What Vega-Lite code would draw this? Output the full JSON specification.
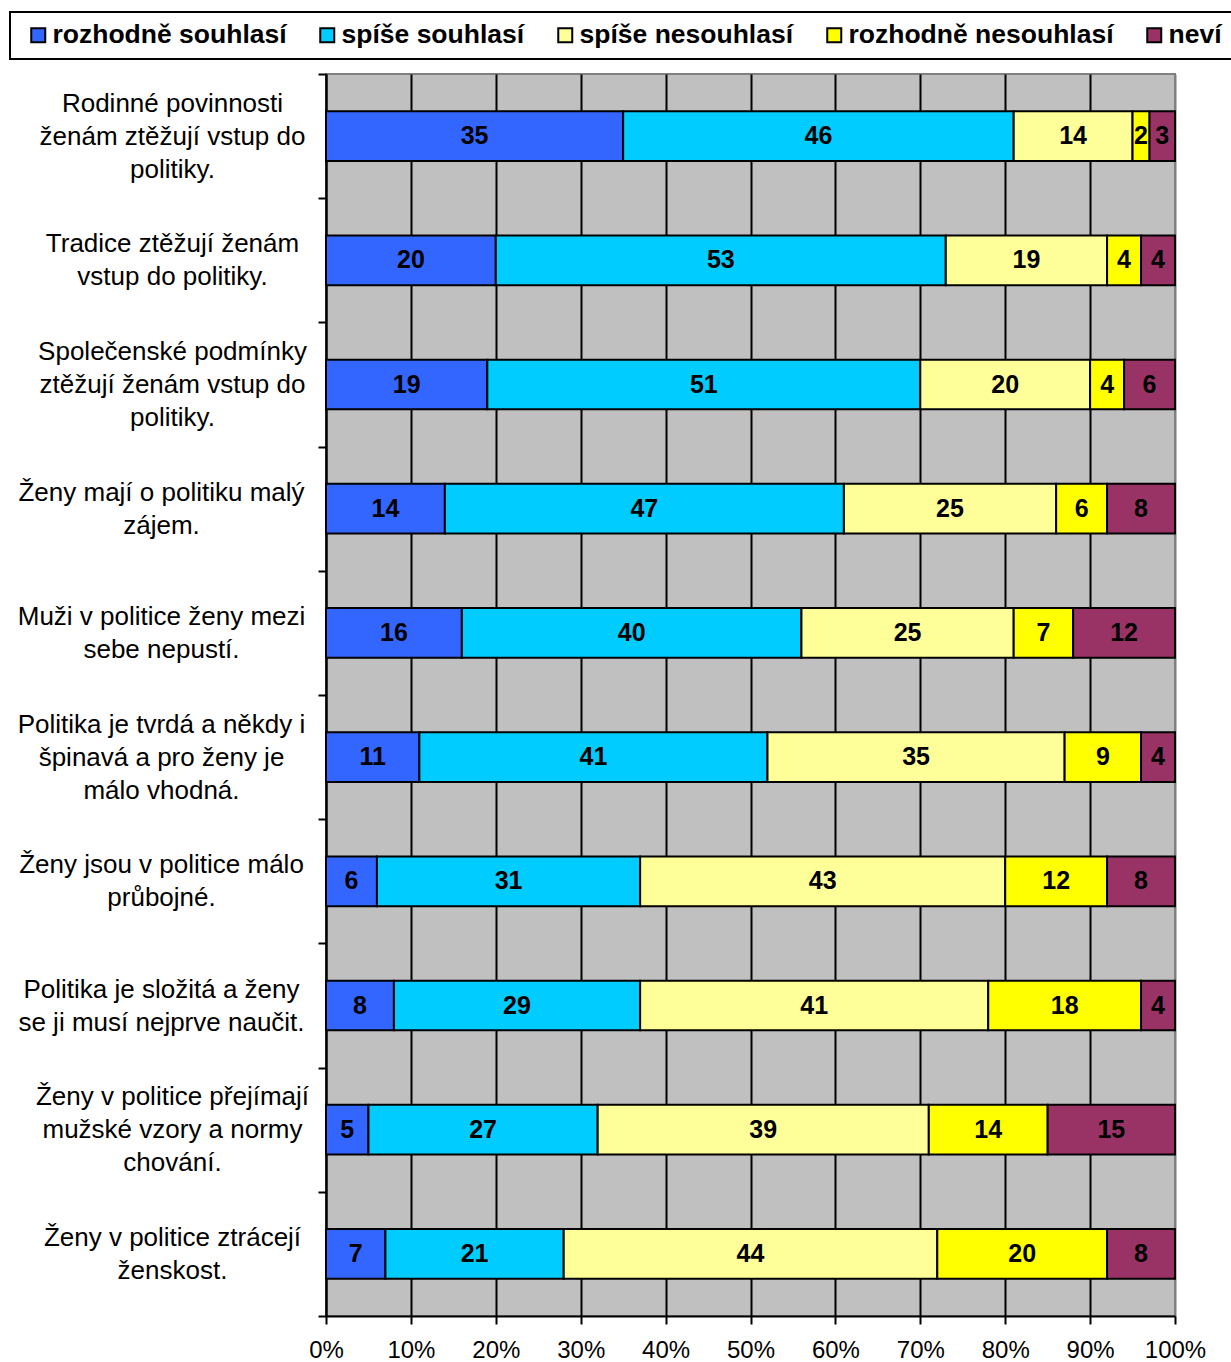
{
  "$schema": "https://vega.github.io/schema/vega-lite/v6.json",
  "autosize": {"type": "none"},
  "width": 849,
  "height": 1242,
  "padding": {"left": 326, "top": 74, "right": 56, "bottom": 46},
  "background": "white",
  "config": {
    "font": "Liberation Sans",
    "view": {"fill": "#C0C0C0", "stroke": "#808080", "strokeWidth": 2},
    "legend": {"strokeWidth": 2}
  },
  "data": {"values": [
    {"q": "Rodinné povinnosti|ženám ztěžují vstup do|politiky.", "k": "rozhodně souhlasí", "v": 35, "o": 1},
    {"q": "Rodinné povinnosti|ženám ztěžují vstup do|politiky.", "k": "spíše souhlasí", "v": 46, "o": 2},
    {"q": "Rodinné povinnosti|ženám ztěžují vstup do|politiky.", "k": "spíše nesouhlasí", "v": 14, "o": 3},
    {"q": "Rodinné povinnosti|ženám ztěžují vstup do|politiky.", "k": "rozhodně nesouhlasí", "v": 2, "o": 4},
    {"q": "Rodinné povinnosti|ženám ztěžují vstup do|politiky.", "k": "neví", "v": 3, "o": 5},
    {"q": "Tradice ztěžují ženám|vstup do politiky.", "k": "rozhodně souhlasí", "v": 20, "o": 1},
    {"q": "Tradice ztěžují ženám|vstup do politiky.", "k": "spíše souhlasí", "v": 53, "o": 2},
    {"q": "Tradice ztěžují ženám|vstup do politiky.", "k": "spíše nesouhlasí", "v": 19, "o": 3},
    {"q": "Tradice ztěžují ženám|vstup do politiky.", "k": "rozhodně nesouhlasí", "v": 4, "o": 4},
    {"q": "Tradice ztěžují ženám|vstup do politiky.", "k": "neví", "v": 4, "o": 5},
    {"q": "Společenské podmínky|ztěžují ženám vstup do|politiky.", "k": "rozhodně souhlasí", "v": 19, "o": 1},
    {"q": "Společenské podmínky|ztěžují ženám vstup do|politiky.", "k": "spíše souhlasí", "v": 51, "o": 2},
    {"q": "Společenské podmínky|ztěžují ženám vstup do|politiky.", "k": "spíše nesouhlasí", "v": 20, "o": 3},
    {"q": "Společenské podmínky|ztěžují ženám vstup do|politiky.", "k": "rozhodně nesouhlasí", "v": 4, "o": 4},
    {"q": "Společenské podmínky|ztěžují ženám vstup do|politiky.", "k": "neví", "v": 6, "o": 5},
    {"q": "Ženy mají o politiku malý|zájem.", "k": "rozhodně souhlasí", "v": 14, "o": 1},
    {"q": "Ženy mají o politiku malý|zájem.", "k": "spíše souhlasí", "v": 47, "o": 2},
    {"q": "Ženy mají o politiku malý|zájem.", "k": "spíše nesouhlasí", "v": 25, "o": 3},
    {"q": "Ženy mají o politiku malý|zájem.", "k": "rozhodně nesouhlasí", "v": 6, "o": 4},
    {"q": "Ženy mají o politiku malý|zájem.", "k": "neví", "v": 8, "o": 5},
    {"q": "Muži v politice ženy mezi|sebe nepustí.", "k": "rozhodně souhlasí", "v": 16, "o": 1},
    {"q": "Muži v politice ženy mezi|sebe nepustí.", "k": "spíše souhlasí", "v": 40, "o": 2},
    {"q": "Muži v politice ženy mezi|sebe nepustí.", "k": "spíše nesouhlasí", "v": 25, "o": 3},
    {"q": "Muži v politice ženy mezi|sebe nepustí.", "k": "rozhodně nesouhlasí", "v": 7, "o": 4},
    {"q": "Muži v politice ženy mezi|sebe nepustí.", "k": "neví", "v": 12, "o": 5},
    {"q": "Politika je tvrdá a někdy i|špinavá a pro ženy je|málo vhodná.", "k": "rozhodně souhlasí", "v": 11, "o": 1},
    {"q": "Politika je tvrdá a někdy i|špinavá a pro ženy je|málo vhodná.", "k": "spíše souhlasí", "v": 41, "o": 2},
    {"q": "Politika je tvrdá a někdy i|špinavá a pro ženy je|málo vhodná.", "k": "spíše nesouhlasí", "v": 35, "o": 3},
    {"q": "Politika je tvrdá a někdy i|špinavá a pro ženy je|málo vhodná.", "k": "rozhodně nesouhlasí", "v": 9, "o": 4},
    {"q": "Politika je tvrdá a někdy i|špinavá a pro ženy je|málo vhodná.", "k": "neví", "v": 4, "o": 5},
    {"q": "Ženy jsou v politice málo|průbojné.", "k": "rozhodně souhlasí", "v": 6, "o": 1},
    {"q": "Ženy jsou v politice málo|průbojné.", "k": "spíše souhlasí", "v": 31, "o": 2},
    {"q": "Ženy jsou v politice málo|průbojné.", "k": "spíše nesouhlasí", "v": 43, "o": 3},
    {"q": "Ženy jsou v politice málo|průbojné.", "k": "rozhodně nesouhlasí", "v": 12, "o": 4},
    {"q": "Ženy jsou v politice málo|průbojné.", "k": "neví", "v": 8, "o": 5},
    {"q": "Politika je složitá a ženy|se ji musí nejprve naučit.", "k": "rozhodně souhlasí", "v": 8, "o": 1},
    {"q": "Politika je složitá a ženy|se ji musí nejprve naučit.", "k": "spíše souhlasí", "v": 29, "o": 2},
    {"q": "Politika je složitá a ženy|se ji musí nejprve naučit.", "k": "spíše nesouhlasí", "v": 41, "o": 3},
    {"q": "Politika je složitá a ženy|se ji musí nejprve naučit.", "k": "rozhodně nesouhlasí", "v": 18, "o": 4},
    {"q": "Politika je složitá a ženy|se ji musí nejprve naučit.", "k": "neví", "v": 4, "o": 5},
    {"q": "Ženy v politice přejímají|mužské vzory a normy|chování.", "k": "rozhodně souhlasí", "v": 5, "o": 1},
    {"q": "Ženy v politice přejímají|mužské vzory a normy|chování.", "k": "spíše souhlasí", "v": 27, "o": 2},
    {"q": "Ženy v politice přejímají|mužské vzory a normy|chování.", "k": "spíše nesouhlasí", "v": 39, "o": 3},
    {"q": "Ženy v politice přejímají|mužské vzory a normy|chování.", "k": "rozhodně nesouhlasí", "v": 14, "o": 4},
    {"q": "Ženy v politice přejímají|mužské vzory a normy|chování.", "k": "neví", "v": 15, "o": 5},
    {"q": "Ženy v politice ztrácejí|ženskost.", "k": "rozhodně souhlasí", "v": 7, "o": 1},
    {"q": "Ženy v politice ztrácejí|ženskost.", "k": "spíše souhlasí", "v": 21, "o": 2},
    {"q": "Ženy v politice ztrácejí|ženskost.", "k": "spíše nesouhlasí", "v": 44, "o": 3},
    {"q": "Ženy v politice ztrácejí|ženskost.", "k": "rozhodně nesouhlasí", "v": 20, "o": 4},
    {"q": "Ženy v politice ztrácejí|ženskost.", "k": "neví", "v": 8, "o": 5}
  ]},
  "encoding": {
    "y": {
      "field": "q", "type": "nominal", "sort": null,
      "scale": {"paddingInner": 0, "paddingOuter": 0},
      "axis": {
        "title": null,
        "tickBand": "extent",
        "domainColor": "black", "domainWidth": 2,
        "tickColor": "black", "tickWidth": 2, "tickSize": 8,
        "labelExpr": "split(datum.label, '|')",
        "labelAlign": "center", "labelBaseline": "middle",
        "labelOffset": {"condition": {"test": "length(split(datum.value, '|')) == 3", "value": -33}, "value": -16.5},
        "labelPadding": {"condition": {"test": "test(/^(Rodinné|Tradice|Společenské|Ženy v politice)/, datum.value)", "value": 146}, "value": 157},
        "labelFontSize": 26, "labelLineHeight": 33,
        "labelColor": "black", "labelLimit": 400
      }
    },
    "x": {
      "field": "v", "type": "quantitative", "stack": "zero",
      "scale": {"domain": [0, 100], "nice": false},
      "axis": {
        "title": null,
        "values": [0, 10, 20, 30, 40, 50, 60, 70, 80, 90, 100],
        "labelExpr": "datum.value + '%'",
        "grid": true,
        "gridColor": {"condition": {"test": "datum.value == 100", "value": "#808080"}, "value": "black"},
        "gridWidth": 2,
        "domainColor": "black", "domainWidth": 2,
        "tickColor": "black", "tickWidth": 2, "tickSize": 8,
        "labelFontSize": 24, "labelPadding": 14, "labelColor": "black",
        "labelFlush": false
      }
    },
    "order": {"field": "o", "type": "quantitative"}
  },
  "layer": [
    {
      "mark": {"type": "bar", "stroke": "black", "strokeWidth": 2, "height": {"band": 0.4}},
      "encoding": {
        "color": {
          "field": "k", "type": "nominal",
          "scale": {
            "domain": ["rozhodně souhlasí", "spíše souhlasí", "spíše nesouhlasí", "rozhodně nesouhlasí", "neví"],
            "range": ["#3366FF", "#00CCFF", "#FFFF99", "#FFFF00", "#993366"]
          },
          "legend": {
            "title": null,
            "orient": "none",
            "legendX": -316,
            "legendY": -62,
            "direction": "horizontal",
            "columns": 5,
            "gridAlign": "none",
            "columnPadding": 22,
            "symbolOffset": 5,
            "symbolType": "square",
            "symbolSize": 196,
            "symbolStrokeColor": "black",
            "symbolStrokeWidth": 2,
            "labelOffset": 1,
            "labelFontSize": 26.5,
            "labelFontWeight": "bold",
            "labelColor": "black",
            "labelLimit": 400,
            "padding": 10,
            "strokeColor": "black",
            "fillColor": "white"
          }
        }
      }
    },
    {
      "mark": {"type": "text", "fontSize": 25, "fontWeight": "bold", "color": "black", "baseline": "middle", "align": "center"},
      "encoding": {
        "x": {"field": "v", "type": "quantitative", "stack": "zero", "bandPosition": 0.5},
        "text": {"field": "v", "type": "quantitative"}
      }
    }
  ]
}
